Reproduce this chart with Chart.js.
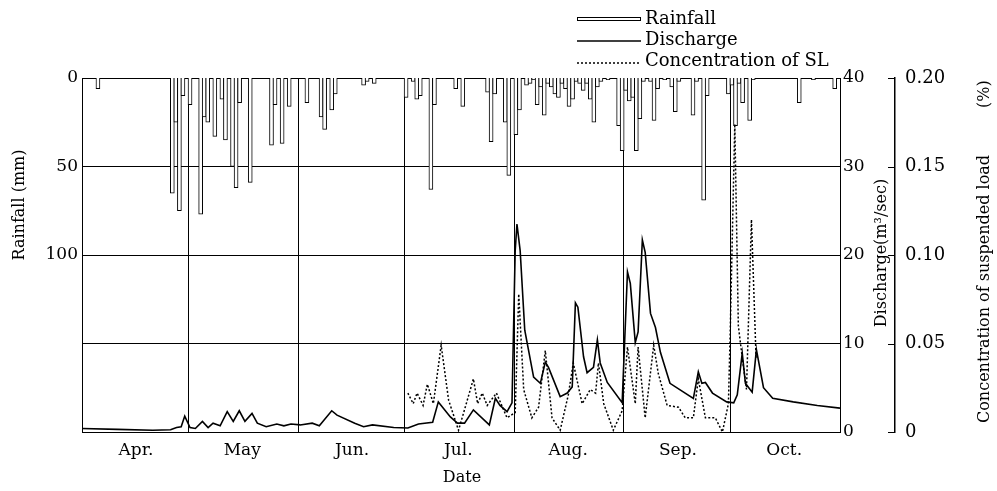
<!DOCTYPE html>
<html>
<head>
<meta charset="utf-8">
<script src="https://cdn.jsdelivr.net/npm/chart.js@4.4.1/dist/chart.umd.min.js"></script>
<style>
  body { margin: 0; background: #fff; }
</style>
</head>
<body>
<canvas id="chart" width="997" height="491"></canvas>
<script>
// day index 0 = 1 Apr, 214 = end of Oct
const monthStarts = [0, 30, 61, 91, 122, 153, 183, 214];
const monthLabels = ["Apr.", "May", "Jun.", "Jul.", "Aug.", "Sep.", "Oct."];

// daily rainfall (mm)
const rainDays = [4, 25, 26, 27, 28, 30, 33, 34, 35, 37, 39, 40, 42, 43, 44, 47, 53, 54, 56, 58,
  63, 67, 68, 70, 71, 79, 80, 82,
  91, 93, 94, 95, 98, 99, 105, 107, 114, 115, 116, 119, 120, 122, 123, 125, 126, 127, 128, 129, 130,
  131, 132, 133, 134, 135, 136, 137, 138, 139, 140, 141, 142, 143, 144, 145, 146, 148, 151, 152,
  153, 154, 155, 156, 157, 158, 160, 161, 162, 164, 166, 167, 168, 172, 173, 175, 176,
  182, 183, 184, 185, 186, 188, 189, 202, 206, 212];
const rainMm = [6, 65, 25, 75, 10, 15, 77, 22, 25, 33, 12, 35, 50, 62, 14, 59, 38, 15, 37, 16,
  14, 22, 29, 18, 9, 4, 2, 3,
  11, 2, 12, 10, 63, 15, 6, 16, 8, 36, 9, 25, 55, 32, 18, 4, 3, 1, 15, 5, 21,
  3, 5, 9, 11, 3, 6, 16, 12, 2, 3, 7, 3, 12, 25, 5, 2, 1, 27, 41,
  7, 13, 11, 41, 23, 2, 2, 24, 6, 1, 5, 19, 2, 21, 2, 69, 10,
  9, 4, 27, 3, 14, 24, 1, 14, 1, 6];

// discharge (m3/sec)
const dischargeDays = [0, 10, 20, 25, 26.7, 28, 29, 30.5, 32, 34, 35.6, 37, 39, 41, 42.7, 44.4, 46, 48, 49.5,
  52, 55, 57, 59, 61.6, 65, 67, 70.5, 72, 77, 79.5, 82, 88, 92, 95, 99, 100.6, 104, 106, 108,
  110.5, 115, 116.7, 118, 120, 121.4, 122.3, 122.8, 123.7, 125, 127.5, 129.4, 130.8, 131.7, 135,
  137, 138.4, 139.3, 140, 141.6, 142.6, 144.4, 145.5, 146.3, 148.3, 152.5, 154, 154.8, 156.2,
  157, 158.2, 159, 160.5, 161.9, 163.3, 166, 172.6, 174, 175, 176, 178, 182, 184, 185, 186.4,
  187.3, 189.2, 190.4, 192.4, 195, 200.8, 207.6, 214];
const dischargeVals = [0.4, 0.3, 0.2, 0.25, 0.5, 0.6, 1.8, 0.5, 0.4, 1.2, 0.5, 1.0, 0.7, 2.3, 1.2, 2.4, 1.2, 2.1, 1.0,
  0.6, 0.9, 0.7, 0.9, 0.8, 1.0, 0.7, 2.4, 1.9, 1.0, 0.6, 0.8, 0.5, 0.45, 0.9, 1.1, 3.4, 1.7, 1.0, 1.0,
  2.5, 0.8, 3.8, 3.0, 2.3, 3.3, 20.5, 23.5, 20.5, 11.5, 6.2, 5.5, 7.9, 7.3, 4.0,
  4.4, 5.1, 14.6, 14.1, 8.5, 6.7, 7.3, 10.4, 7.8, 5.6, 3.3, 18.1, 16.8, 10.1,
  11.3, 21.7, 20.3, 13.4, 11.8, 9.0, 5.5, 3.8, 6.8, 5.5, 5.6, 4.4, 3.4, 3.3, 4.2, 8.9,
  5.5, 4.5, 9.3, 5.0, 3.8, 3.4, 3.0, 2.7];

// concentration of suspended load (%)
const concDays = [92, 93.5, 94.6, 96.3, 97.5, 99.2, 101.4, 103.5, 106.3, 108.2, 110.5, 111.7, 113, 114.4,
  117, 120, 122.3, 123.3, 124.7, 127, 128.9, 130.8, 132.7, 135, 137.3, 138.7, 141.2, 143.5, 145,
  145.8, 147.3, 150, 152.5, 154, 156.2, 157, 159, 161.4, 162.7, 165.2, 168.4, 170.3, 172.6, 174,
  176, 178.8, 180.8, 182.5, 183, 184.3, 185.3, 186.4, 187.6, 189, 190.3];
const concVals = [0.022, 0.016, 0.022, 0.015, 0.027, 0.016, 0.049, 0.018, 0.001, 0.014, 0.030, 0.016, 0.022, 0.015,
  0.022, 0.008, 0.011, 0.078, 0.024, 0.008, 0.014, 0.046, 0.008, 0.001, 0.021, 0.039, 0.016, 0.024, 0.022,
  0.039, 0.016, 0.001, 0.012, 0.048, 0.016, 0.048, 0.008, 0.049, 0.033, 0.015, 0.014, 0.008, 0.008, 0.030,
  0.008, 0.008, 0.0, 0.016, 0.056, 0.174, 0.06, 0.042, 0.024, 0.12, 0.042];

const serif = "'DejaVu Serif', serif";

const extraText = {
  id: "extraText",
  afterDraw(chart) {
    const ctx = chart.ctx;
    const yC = chart.scales.yC;
    ctx.save();
    // inward tick marks on the concentration axis
    ctx.strokeStyle = "#000";
    ctx.lineWidth = 1;
    yC.ticks.forEach(t => {
      const y = Math.round(yC.getPixelForValue(t.value)) + 0.5;
      ctx.beginPath();
      ctx.moveTo(yC.left - 7, y);
      ctx.lineTo(yC.left, y);
      ctx.stroke();
    });

    ctx.fillStyle = "#000";
    ctx.textBaseline = "middle";

    const vText = (txt, x, y, align) => {
      ctx.save();
      ctx.translate(x, y);
      ctx.rotate(-Math.PI / 2);
      ctx.textAlign = align || "center";
      ctx.fillText(txt, 0, 0);
      ctx.restore();
    };
    ctx.font = "16px " + serif;
    vText("Rainfall (mm)", 20, 205);
    vText("Discharge(m\u00b3/sec)", 882, 253);
    vText("Concentration of suspended load", 985, 423, "left");
    vText("(%)", 985, 108, "left");

    ctx.textAlign = "center";
    ctx.fillText("Date", 462, 478);

    // legend
    ctx.font = "18px " + serif;
    ctx.textAlign = "left";
    ctx.fillText("Rainfall", 645, 19);
    ctx.fillText("Discharge", 645, 40);
    ctx.fillText("Concentration of SL", 645, 61);
    ctx.strokeRect(577.5, 17.5, 63, 3);
    ctx.lineWidth = 1.5;
    ctx.beginPath();
    ctx.moveTo(577, 41);
    ctx.lineTo(641, 41);
    ctx.stroke();
    ctx.setLineDash([2, 2]);
    ctx.beginPath();
    ctx.moveTo(577, 63);
    ctx.lineTo(641, 63);
    ctx.stroke();
    ctx.restore();
  }
};

const tickFont = { family: serif, size: 17 };

new Chart(document.getElementById("chart"), {
  type: "bar",
  data: {
    datasets: [
      {
        type: "line",
        label: "Concentration of SL",
        data: concDays.map((d, i) => ({ x: d, y: concVals[i] })),
        yAxisID: "yC",
        borderColor: "#000",
        borderWidth: 1.5,
        borderDash: [2, 2],
        pointRadius: 0,
        fill: false,
        order: 1
      },
      {
        type: "line",
        label: "Discharge",
        data: dischargeDays.map((d, i) => ({ x: d, y: dischargeVals[i] })),
        yAxisID: "yD",
        borderColor: "#000",
        borderWidth: 1.6,
        pointRadius: 0,
        fill: false,
        order: 2
      },
      {
        type: "bar",
        label: "Rainfall",
        data: rainDays.map((d, i) => ({ x: d + 0.5, y: rainMm[i] })),
        yAxisID: "yR",
        backgroundColor: "#fff",
        borderColor: "#000",
        borderWidth: 1,
        barThickness: 4,
        order: 3
      }
    ]
  },
  options: {
    responsive: false,
    animation: false,
    layout: { padding: { top: 78, left: 0, right: 0, bottom: 0 } },
    plugins: { legend: { display: false }, tooltip: { enabled: false } },
    scales: {
      x: {
        type: "linear",
        min: 0,
        max: 214,
        offset: false,
        afterBuildTicks: s => { s.ticks = monthStarts.map(v => ({ value: v })); },
        grid: { color: "#000", lineWidth: 1, drawTicks: false, offset: false },
        border: { color: "#000", width: 1 },
        ticks: {
          autoSkip: false,
          maxRotation: 0,
          labelOffset: 54,
          padding: 8,
          color: "#000",
          font: tickFont,
          callback: (v, i) => monthLabels[i] || ""
        },
        afterFit: s => { s.height = 59; }
      },
      yR: {
        type: "linear",
        position: "left",
        reverse: true,
        min: 0,
        max: 200,
        afterBuildTicks: s => { s.ticks = [0, 50, 100].map(v => ({ value: v })); },
        grid: { display: false, drawTicks: false },
        border: { color: "#000", width: 1 },
        ticks: { color: "#000", font: tickFont, padding: 4 },
        afterFit: s => { s.width = 82; }
      },
      yD: {
        type: "linear",
        position: "right",
        weight: 0,
        min: 0,
        max: 40,
        ticks: { stepSize: 10, color: "#000", font: tickFont, padding: 3 },
        grid: { color: "#000", lineWidth: 1, drawTicks: false },
        border: { color: "#000", width: 1 },
        afterFit: s => { s.width = 55; }
      },
      yC: {
        type: "linear",
        position: "right",
        weight: 1,
        min: 0,
        max: 0.2,
        ticks: {
          stepSize: 0.05,
          color: "#000",
          font: { family: serif, size: 18 },
          padding: 10,
          callback: v => (v === 0 ? "0" : v.toFixed(2))
        },
        grid: { drawOnChartArea: false, drawTicks: false },
        border: { color: "#000", width: 1.5 },
        afterFit: s => { s.width = 102; }
      }
    }
  },
  plugins: [extraText]
});
</script>
</body>
</html>
